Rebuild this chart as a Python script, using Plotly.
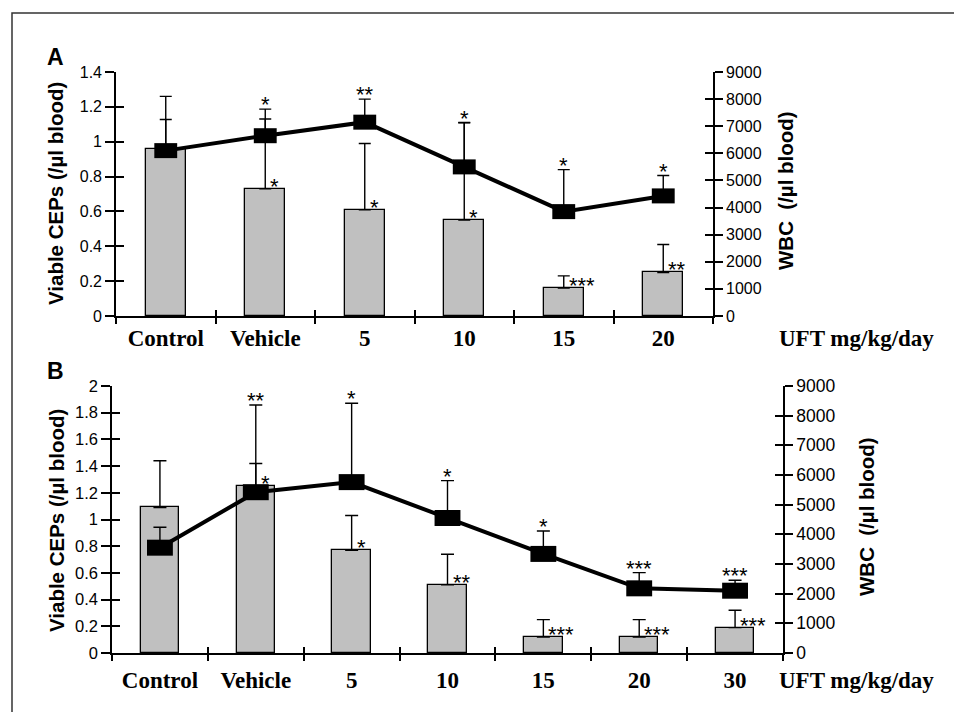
import plotly.graph_objects as go

# ---------------- data ----------------
cats_a = ["Control", "Vehicle", "5", "10", "15", "20"]
cep_a = [0.96, 0.73, 0.61, 0.55, 0.16, 0.25]
cep_a_err = [0.30, 0.40, 0.38, 0.56, 0.07, 0.16]
wbc_a = [6100, 6650, 7150, 5500, 3850, 4430]
wbc_a_err = [1150, 980, 850, 1630, 1550, 750]
cep_a_sig = ["", "*", "*", "*", "***", "**"]
wbc_a_sig = ["", "*", "**", "*", "*", "*"]

cats_b = ["Control", "Vehicle", "5", "10", "15", "20", "30"]
cep_b = [1.09, 1.25, 0.77, 0.51, 0.12, 0.12, 0.19]
cep_b_err = [0.35, 0.17, 0.26, 0.23, 0.13, 0.13, 0.13]
wbc_b = [3550, 5420, 5760, 4550, 3340, 2180, 2100]
wbc_b_err = [690, 2940, 2660, 1260, 770, 530, 350]
cep_b_sig = ["", "*", "*", "**", "***", "***", "***"]
wbc_b_sig = ["", "**", "*", "*", "*", "***", "***"]

cep_a_ticks = [0, 0.2, 0.4, 0.6, 0.8, 1.0, 1.2, 1.4]
cep_a_ticktext = ["0", "0.2", "0.4", "0.6", "0.8", "1", "1.2", "1.4"]
cep_b_ticks = [0, 0.2, 0.4, 0.6, 0.8, 1.0, 1.2, 1.4, 1.6, 1.8, 2.0]
cep_b_ticktext = ["0", "0.2", "0.4", "0.6", "0.8", "1", "1.2", "1.4", "1.6", "1.8", "2"]
wbc_ticks = [0, 1000, 2000, 3000, 4000, 5000, 6000, 7000, 8000, 9000]

left_title = "Viable CEPs (/µl blood)"
right_title = "WBC  (/µl blood)"
x_unit = "UFT mg/kg/day"

# ---------------- layout constants ----------------
OFF = 8                      # page body margin
W, H = 962 - 2 * OFF, 720 - 2 * OFF
def px(x):
    return (x - OFF) / W
def py(y):
    return 1 - (y - OFF) / H

BAR_COLOR = "#c0c0c0"
SANS = "Liberation Sans, Arial, sans-serif"
SERIF = "Liberation Serif, Times New Roman, serif"

fig = go.Figure()

panels = [
    dict(cats=cats_a, cep=cep_a, cep_err=cep_a_err, wbc=wbc_a, wbc_err=wbc_a_err,
         cep_sig=cep_a_sig, wbc_sig=wbc_a_sig, cticks=cep_a_ticks, ctext=cep_a_ticktext,
         cmax=1.4, xd=[px(116), px(713)], yd=[py(316), py(72)],
         ax=dict(x="x", xin="x3", xlab="x5", y="y", yin="y3", y2="y2", y2in="y4"),
         mk_half=0.115, mk_th=15, cap=6, label_standoff=6, lfont=16, rfont=16,
         letter="A", letter_xy=(55, 57), ltitle_xy=(56, 194), rtitle_xy=(785, 191),
         unit_xy=(777, 338)),
    dict(cats=cats_b, cep=cep_b, cep_err=cep_b_err, wbc=wbc_b, wbc_err=wbc_b_err,
         cep_sig=cep_b_sig, wbc_sig=wbc_b_sig, cticks=cep_b_ticks, ctext=cep_b_ticktext,
         cmax=2.0, xd=[px(112), px(783)], yd=[py(653), py(386)],
         ax=dict(x="x6", xin="x7", xlab="x8", y="y5", yin="y6", y2="y7", y2in="y8"),
         mk_half=0.135, mk_th=16, cap=6.5, label_standoff=11, lfont=16.5, rfont=17.5,
         letter="B", letter_xy=(55, 371), ltitle_xy=(56, 521), rtitle_xy=(866, 517),
         unit_xy=(777, 680)),
]

def lname(a):
    return "xaxis" + a[1:] if a.startswith("x") else "yaxis" + a[1:]

annotations = []
layout_axes = {}

def ghost(xs, xa, ya):
    # invisible helper trace so that an overlay axis gets drawn
    return go.Scatter(x=xs, y=[None] * len(xs), xaxis=xa, yaxis=ya, mode="markers",
                      marker=dict(opacity=0), showlegend=False, hoverinfo="skip")

for p in panels:
    n = len(p["cats"])
    xs = list(range(n))
    bounds = [i - 0.5 for i in range(n + 1)]
    a = p["ax"]
    xr = [-0.5, n - 0.5]

    fig.add_trace(go.Bar(
        x=xs, y=p["cep"], width=0.4, xaxis=a["x"], yaxis=a["y"],
        marker=dict(color=BAR_COLOR, line=dict(color="black", width=1.3)),
        error_y=dict(type="data", array=p["cep_err"], arrayminus=[0] * n, symmetric=False,
                     color="black", thickness=1.4, width=p["cap"]),
        showlegend=False, hoverinfo="skip"))

    fig.add_trace(go.Scatter(
        x=xs, y=p["wbc"], mode="lines", xaxis=a["x"], yaxis=a["y2"],
        line=dict(color="black", width=4),
        error_y=dict(type="data", array=p["wbc_err"], arrayminus=[0] * n, symmetric=False,
                     color="black", thickness=1.4, width=p["cap"]),
        error_x=dict(type="constant", value=p["mk_half"], color="black",
                     thickness=p["mk_th"], width=0),
        showlegend=False, hoverinfo="skip"))

    fig.add_trace(ghost(xs, a["xin"], a["y"]))
    fig.add_trace(ghost(xs, a["xlab"], a["y"]))
    fig.add_trace(ghost(xs, a["x"], a["yin"]))
    fig.add_trace(ghost(xs, a["x"], a["y2in"]))

    common = dict(showgrid=False, zeroline=False, fixedrange=True, automargin=False)
    layout_axes[lname(a["x"])] = dict(domain=p["xd"], range=xr, anchor=a["y"], showline=True,
                                      linecolor="black", linewidth=1.6, ticks="outside",
                                      tickmode="array", tickvals=bounds, ticklen=6, tickwidth=1.5,
                                      tickcolor="black", showticklabels=False, **common)
    layout_axes[lname(a["xin"])] = dict(domain=p["xd"], range=xr, anchor=a["y"],
                                        overlaying=a["x"], showline=False, ticks="inside",
                                        tickmode="array", tickvals=bounds, ticklen=6,
                                        tickwidth=1.5, tickcolor="black",
                                        showticklabels=False, **common)
    layout_axes[lname(a["xlab"])] = dict(domain=p["xd"], range=xr, anchor=a["y"],
                                         overlaying=a["x"], side="bottom", showline=False,
                                         ticks="", tickmode="array", tickvals=xs,
                                         ticktext=["<b>" + c + "</b>" for c in p["cats"]],
                                         ticklabelstandoff=p["label_standoff"],
                                         tickfont=dict(family=SERIF, size=23, color="black"),
                                         **common)
    layout_axes[lname(a["y"])] = dict(domain=p["yd"], range=[0, p["cmax"]], anchor=a["x"],
                                      showline=True, linecolor="black", linewidth=1.6,
                                      ticks="outside", tickmode="array", tickvals=p["cticks"],
                                      ticktext=p["ctext"], ticklen=9, tickwidth=1.5,
                                      tickcolor="black",
                                      tickfont=dict(family=SANS, size=p["lfont"], color="black"),
                                      **common)
    layout_axes[lname(a["yin"])] = dict(domain=p["yd"], range=[0, p["cmax"]], anchor=a["x"],
                                        overlaying=a["y"], side="left", showline=False,
                                        ticks="inside", tickmode="array", tickvals=p["cticks"],
                                        ticklen=8, tickwidth=1.5, tickcolor="black",
                                        showticklabels=False, **common)
    layout_axes[lname(a["y2"])] = dict(domain=p["yd"], range=[0, 9000], anchor=a["x"],
                                       overlaying=a["y"], side="right", showline=True,
                                       linecolor="black", linewidth=1.6, ticks="outside",
                                       tickmode="array", tickvals=wbc_ticks, ticklen=8,
                                       tickwidth=1.5, tickcolor="black",
                                       tickfont=dict(family=SANS, size=p["rfont"], color="black"),
                                       **common)
    layout_axes[lname(a["y2in"])] = dict(domain=p["yd"], range=[0, 9000], anchor=a["x"],
                                         overlaying=a["y"], side="right", showline=False,
                                         ticks="inside", tickmode="array", tickvals=wbc_ticks,
                                         ticklen=8, tickwidth=1.5, tickcolor="black",
                                         showticklabels=False, **common)

    # significance marks
    for i in range(n):
        if p["cep_sig"][i]:
            annotations.append(dict(x=xs[i], y=p["cep"][i], xref=a["x"], yref=a["y"],
                                    text=p["cep_sig"][i], showarrow=False, xanchor="left",
                                    yanchor="bottom", xshift=3, yshift=-12,
                                    font=dict(family=SANS, size=22, color="black")))
        if p["wbc_sig"][i]:
            annotations.append(dict(x=xs[i], y=p["wbc"][i] + p["wbc_err"][i], xref=a["x"],
                                    yref=a["y2"], text=p["wbc_sig"][i], showarrow=False,
                                    xanchor="center", yanchor="bottom", yshift=-10,
                                    font=dict(family=SANS, size=22, color="black")))

    # titles / labels
    annotations.append(dict(x=px(p["ltitle_xy"][0]), y=py(p["ltitle_xy"][1]), xref="paper",
                            yref="paper", text="<b>" + left_title + "</b>", textangle=-90,
                            showarrow=False, xanchor="center", yanchor="middle",
                            font=dict(family=SANS, size=20.5, color="black")))
    annotations.append(dict(x=px(p["rtitle_xy"][0]), y=py(p["rtitle_xy"][1]), xref="paper",
                            yref="paper", text="<b>" + right_title.replace("  ", "&nbsp; ") + "</b>",
                            textangle=-90, showarrow=False, xanchor="center", yanchor="middle",
                            font=dict(family=SANS, size=20.5, color="black")))
    annotations.append(dict(x=px(p["letter_xy"][0]), y=py(p["letter_xy"][1]), xref="paper",
                            yref="paper", text="<b>" + p["letter"] + "</b>", showarrow=False,
                            xanchor="center", yanchor="middle",
                            font=dict(family=SANS, size=23, color="black")))
    annotations.append(dict(x=px(p["unit_xy"][0]), y=py(p["unit_xy"][1]), xref="paper",
                            yref="paper", text="<b>" + x_unit + "</b>", showarrow=False,
                            xanchor="left", yanchor="middle",
                            font=dict(family=SERIF, size=23, color="black")))

fig.update_layout(
    width=W, height=H, margin=dict(l=0, r=0, t=0, b=0, pad=0, autoexpand=False),
    paper_bgcolor="white", plot_bgcolor="rgba(0,0,0,0)",
    showlegend=False, bargap=0,
    annotations=annotations,
    shapes=[dict(type="rect", xref="paper", yref="paper", x0=px(12), x1=1.05,
                 y0=-0.05, y1=py(13), line=dict(color="#333333", width=1.5),
                 fillcolor="rgba(0,0,0,0)", layer="below")],
    **layout_axes,
)

fig.write_html("out.html")
